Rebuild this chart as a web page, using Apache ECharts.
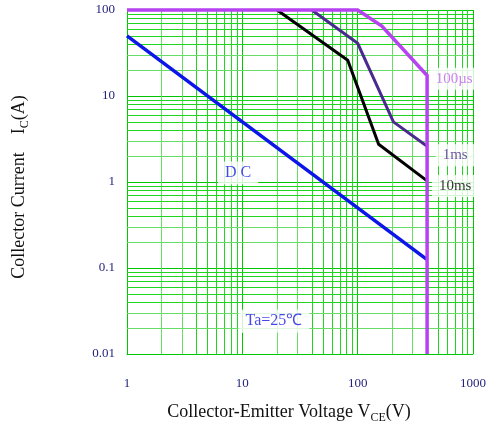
<!DOCTYPE html>
<html><head><meta charset="utf-8">
<script src="https://cdn.jsdelivr.net/npm/echarts@6/dist/echarts.min.js"></script>
<style>html,body{margin:0;padding:0;background:#fff}#chart{width:489px;height:429px}</style>
</head><body><div id="chart"></div>
<script>
// Safe operating area, log-log
const xTicks = [1, 10, 100, 1000];
const yTicks = [0.01, 0.1, 1, 10, 100];
const pulse100us = [[1, 100], [100, 100], [162, 65], [400, 17.3], [400, 0.01]];
const pulse1ms = [[40, 100], [100, 41], [204, 5], [400, 2.6]];
const pulse10ms = [[20, 100], [82, 26], [152, 2.75], [400, 1.03]];
const dcLine = [[1, 50], [400, 0.125]];
const curveLabels = ['100µs', '1ms', '10ms'];
const curveLabelAt = [[686, 15.9], [700, 2.05], [700, 0.9]];
const noteLabels = ['D C', 'Ta=25℃'];
const noteLabelAt = [[9.18, 1.27], [18.8, 0.0241]];

const FONT = '"Liberation Serif", "Times New Roman", serif';
const TICK_COLOR = '#1f1f7a';
const GRID_MAJOR = '#00c800';
const GRID_MINOR = '#1fd61f';
const GRID_LIGHT = '#66de66';

// minor grid lines at 2..9 of every decade
const vLines = [], hLines = [];
for (let i = 0; i < xTicks.length - 1; i++) {
  for (let m = 2; m <= 9; m++) vLines.push({ xAxis: xTicks[i] * m, lineStyle: { color: m <= 3 ? GRID_LIGHT : GRID_MINOR } });
}
for (let i = 0; i < yTicks.length - 1; i++) {
  for (let m = 2; m <= 9; m++) hLines.push({ yAxis: +(yTicks[i] * m).toPrecision(3), lineStyle: { color: m <= 3 ? GRID_LIGHT : GRID_MINOR } });
}

function nearestTick(list, v) {
  let best = list[0];
  for (const t of list) if (Math.abs(Math.log10(t) - Math.log10(v)) < Math.abs(Math.log10(best) - Math.log10(v))) best = t;
  return String(best);
}

const chart = echarts.init(document.getElementById('chart'), null, { renderer: 'canvas' });

const lineSeries = (name, data, color, width) => ({
  name, type: 'line', data, showSymbol: false, symbol: 'none', clip: false, z: 6,
  lineStyle: { color, width, join: 'miter' }, animation: false
});

const labelSeries = (items, positions, colors, fontSize) => ({
  type: 'scatter', symbolSize: 1, z: 4, silent: true, animation: false,
  itemStyle: { color: 'rgba(0,0,0,0)' },
  data: positions.map((p, i) => ({ value: p, name: items[i],
    label: { show: true, position: 'inside', formatter: items[i], color: colors[i],
      fontFamily: FONT, fontSize, backgroundColor: '#ffffff', padding: [4, 7, 3, 7] } }))
});

const titleRich = {
  t: { fontFamily: FONT, fontSize: 18, color: '#111', lineHeight: 24 },
  s: { fontFamily: FONT, fontSize: 12, color: '#111', lineHeight: 24, verticalAlign: 'bottom', padding: [7, 0, 0, 0] }
};

chart.setOption({
  animation: false,
  grid: { left: 127, right: 16, top: 10, bottom: 73 },
  xAxis: {
    type: 'log', logBase: 10, min: 1, max: 1000,
    axisLine: { show: true, lineStyle: { color: GRID_MAJOR, width: 1 } },
    axisTick: { show: false },
    splitLine: { show: true, lineStyle: { color: GRID_MAJOR, width: 1 } },
    axisLabel: { color: TICK_COLOR, fontFamily: FONT, fontSize: 13, margin: 23,
      formatter: v => nearestTick(xTicks, v) },
    name: '{t|Collector-Emitter Voltage V}{s|CE}{t|(V)}',
    nameLocation: 'middle', nameGap: 46,
    nameTextStyle: { padding: [0, 22, 0, 0], rich: titleRich }
  },
  yAxis: {
    type: 'log', logBase: 10, min: 0.01, max: 100,
    axisLine: { show: true, lineStyle: { color: GRID_MAJOR, width: 1 } },
    axisTick: { show: false },
    splitLine: { show: true, lineStyle: { color: GRID_MAJOR, width: 1 } },
    axisLabel: { color: TICK_COLOR, fontFamily: FONT, fontSize: 13, margin: 12,
      formatter: v => nearestTick(yTicks, v) },
    name: '{t|Collector Current    I}{s|C}{t|(A)}',
    nameLocation: 'middle', nameGap: 96,
    nameTextStyle: { padding: [0, 10, 0, 0], rich: titleRich }
  },
  series: [
    { type: 'line', data: [], silent: true, z: 1, animation: false,
      markLine: { silent: true, z: 1, symbol: 'none', label: { show: false }, animation: false,
        lineStyle: { type: 'solid', width: 1, color: GRID_MINOR },
        data: vLines.concat(hLines) } },
    lineSeries('DC', dcLine, '#0c16e8', 3.5),
    lineSeries('10ms', pulse10ms, '#000000', 3),
    lineSeries('1ms', pulse1ms, '#4a2a8e', 3),
    lineSeries('100µs', pulse100us, '#b642f2', 3.5),
    labelSeries(curveLabels, curveLabelAt, ['#c35cf0', '#4a2a8e', '#000000'], 15),
    labelSeries(noteLabels, noteLabelAt, ['#1a1ae0', '#1a1ae0'], 16)
  ]
});
</script></body></html>
